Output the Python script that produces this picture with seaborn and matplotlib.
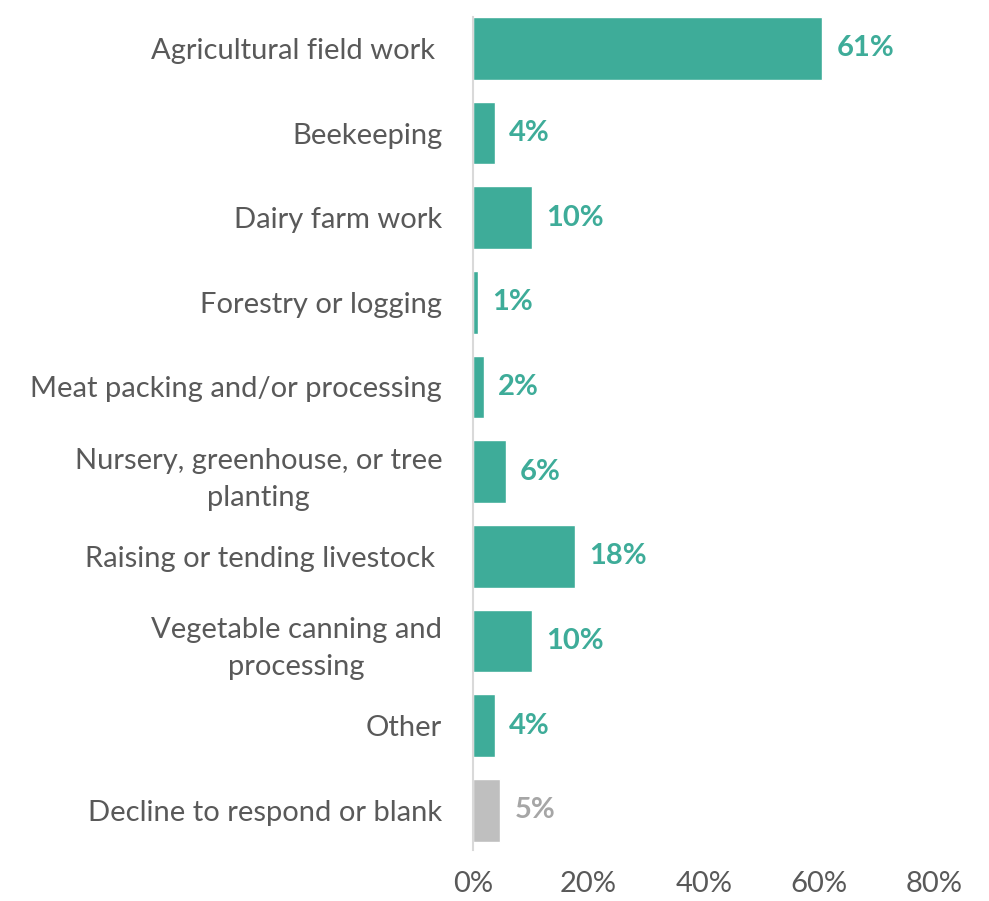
import matplotlib
matplotlib.use("Agg")
import matplotlib.pyplot as plt
import seaborn as sns
import pandas as pd
from matplotlib.ticker import FuncFormatter

categories = [
    "Agricultural field work ",
    "Beekeeping",
    "Dairy farm work",
    "Forestry or logging",
    "Meat packing and/or processing",
    "Nursery, greenhouse, or tree\nplanting",
    "Raising or tending livestock ",
    "Vegetable canning and\nprocessing",
    "Other",
    "Decline to respond or blank",
]
values = [60.5, 3.8, 10.3, 0.9, 1.9, 5.7, 17.7, 10.3, 3.8, 4.8]
labels = ["61%", "4%", "10%", "1%", "2%", "6%", "18%", "10%", "4%", "5%"]
xticks = [0, 20, 40, 60, 80]

TEAL = "#3EAC99"
GRAY_BAR = "#BFBFBF"
GRAY_LBL = "#A6A6A6"
TEXT = "#595959"
colors = [TEAL] * 9 + [GRAY_BAR]
lbl_colors = [TEAL] * 9 + [GRAY_LBL]

sns.set_style("white")
plt.rcParams["font.family"] = ["Lato", "DejaVu Sans"]

df = pd.DataFrame({"cat": categories, "val": values})

fig = plt.figure(figsize=(9.89, 9.01), dpi=100)
ax = fig.add_axes([0.478, 0.0566, 0.467, 0.9245])
sns.barplot(data=df, x="val", y="cat", hue="cat", palette=colors, legend=False,
            ax=ax, width=0.74, saturation=1, orient="h")

ax.set_xlim(0, 80)
ax.set_ylim(9.47, -0.37)
ax.set_xticks(xticks)
ax.xaxis.set_major_formatter(FuncFormatter(lambda v, p: f"{int(v)}%"))
ax.set_xlabel("")
ax.set_ylabel("")
for s in ["top", "right", "bottom"]:
    ax.spines[s].set_visible(False)
ax.spines["left"].set_color("#D9D9D9")
ax.spines["left"].set_linewidth(1.5)
ax.tick_params(axis="y", length=0, pad=22, labelsize=21, labelcolor=TEXT)
ax.tick_params(axis="x", length=0, pad=15, labelsize=21, labelcolor=TEXT)
for t in ax.get_yticklabels():
    t.set_multialignment("center")
    t.set_linespacing(1.5)

for i, (v, l) in enumerate(zip(values, labels)):
    ax.text(v + 2.5, i, l, va="center", ha="left", fontsize=21,
            fontweight="bold", color=lbl_colors[i])

fig.savefig("out.png", dpi=100)
